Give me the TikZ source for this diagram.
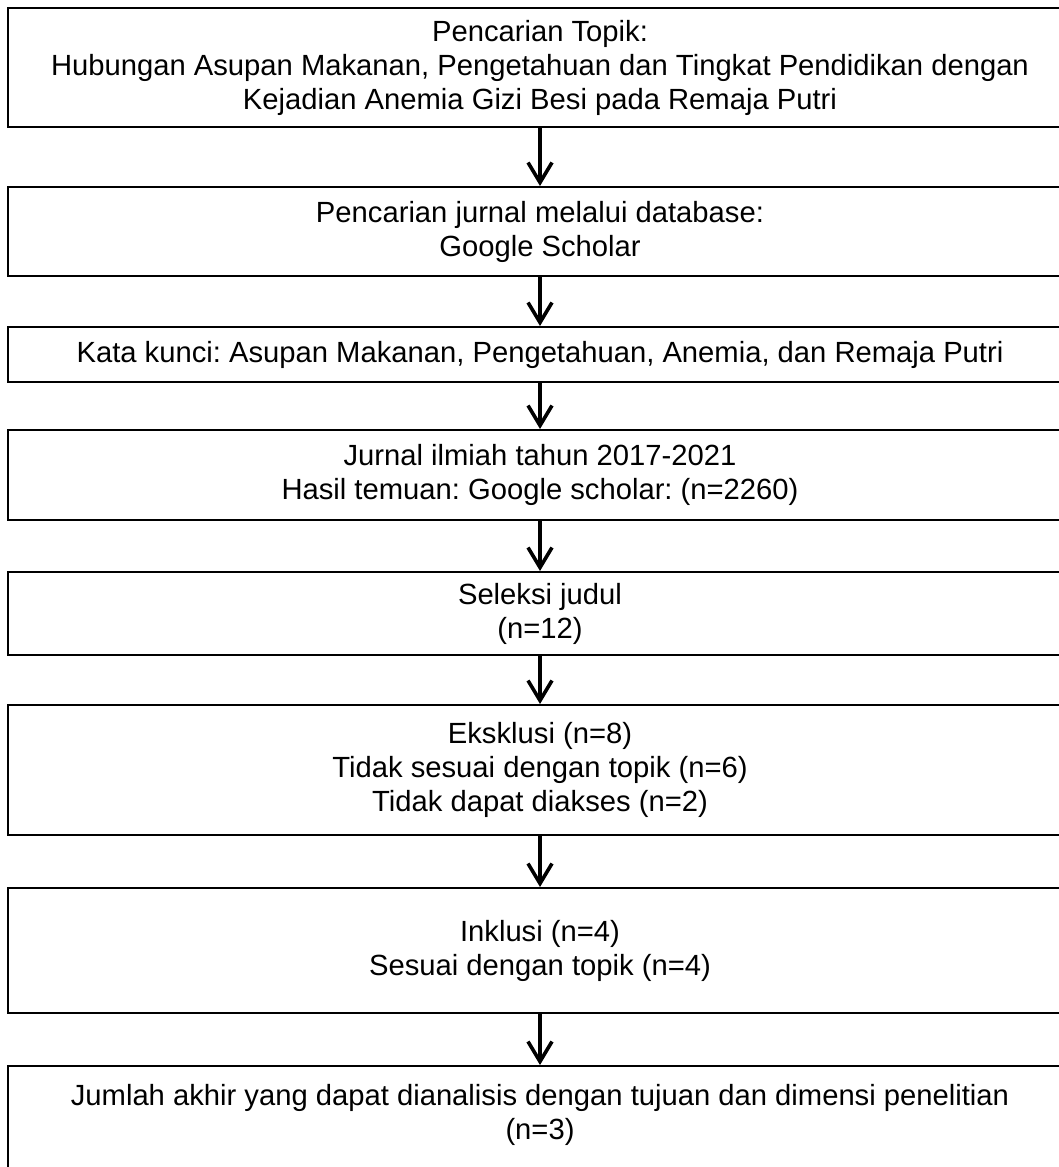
\documentclass[tikz,border=0pt]{standalone}
\usepackage{fontspec}
\setmainfont{Liberation Sans}
\usetikzlibrary{arrows.meta}
\frenchspacing

\begin{document}
\begin{tikzpicture}[x=1pt, y=-1pt, every node/.style={font=\fontsize{29.2pt}{34pt}\selectfont},
  stage/.style={draw, line width=2pt, minimum width=1064pt, inner sep=0pt, align=center},
  flow/.style={-{Straight Barb[length=20pt,width=24pt]}, line width=3.6pt}]

\useasboundingbox (0,0) rectangle (1059,1167);
\clip (0,0) rectangle (1059,1167);

% Stages (right edges run off the page)
\node[stage,minimum height=119pt] at (540,67.5) (topik) {Pencarian Topik:\\Hubungan Asupan Makanan, Pengetahuan dan Tingkat Pendidikan dengan\\Kejadian Anemia Gizi Besi pada Remaja Putri};
\node[stage,minimum height=89pt] at (540,231.5) (database) {Pencarian jurnal melalui database:\\Google Scholar};
\node[stage,minimum height=55pt] at (540,354.5) (kunci) {Kata kunci: Asupan Makanan, Pengetahuan, Anemia, dan Remaja Putri};
\node[stage,minimum height=90pt] at (540,475) (jurnal) {Jurnal ilmiah tahun 2017-2021\\Hasil temuan: Google scholar: (n=2260)};
\node[stage,minimum height=83pt] at (540,613.5) (judul) {Seleksi judul\\(n=12)};
\node[stage,minimum height=130pt] at (540,770) (eksklusi) {Eksklusi (n=8)\\Tidak sesuai dengan topik (n=6)\\Tidak dapat diakses (n=2)};
\node[stage,minimum height=125pt] at (540,950.5) (inklusi) {Inklusi (n=4)\\Sesuai dengan topik (n=4)};
\node[stage,minimum height=106pt,text depth=14pt] at (540,1119) (akhir) {Jumlah akhir yang dapat dianalisis dengan tujuan dan dimensi penelitian\\(n=3)};

% Connections
\foreach \from/\to in {topik/database, database/kunci, kunci/jurnal, jurnal/judul, judul/eksklusi, eksklusi/inklusi, inklusi/akhir} {
    \draw[flow] (\from.south) -- (\to.north);
}
\end{tikzpicture}
\end{document}
